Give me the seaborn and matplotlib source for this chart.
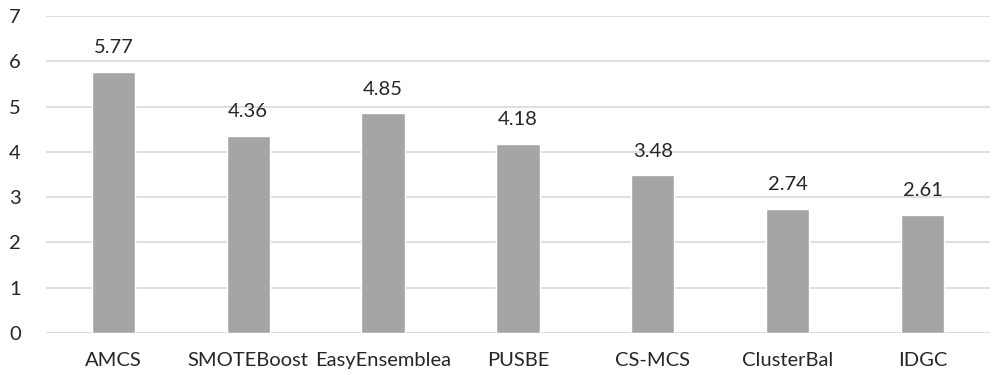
import matplotlib
matplotlib.use("Agg")
import matplotlib.pyplot as plt
import seaborn as sns
import pandas as pd

methods = ["AMCS", "SMOTEBoost", "EasyEnsemblea", "PUSBE", "CS-MCS", "ClusterBal", "IDGC"]
scores = [5.77, 4.36, 4.85, 4.18, 3.48, 2.74, 2.61]
y_ticks = [0, 1, 2, 3, 4, 5, 6, 7]

sns.set_theme(style="white")
plt.rcParams["font.family"] = ["Lato", "DejaVu Sans"]

df = pd.DataFrame({"method": methods, "score": scores})

fig = plt.figure(figsize=(9.97, 3.75), dpi=100)
ax = fig.add_axes([0.046, 0.112, 0.947, 0.845])

sns.barplot(data=df, x="method", y="score", color="#A5A5A8", width=0.32,
            saturation=1, ax=ax, zorder=3)

ax.set_ylim(0, 7)
ax.set_yticks(y_ticks)
ax.set_xlim(-0.5, len(methods) - 0.5)
ax.yaxis.grid(True, color="#D9D9D9", linewidth=1.2, zorder=0)
ax.set_axisbelow(True)
for s in ax.spines.values():
    s.set_visible(False)
ax.axhline(0, color="#D9D9D9", linewidth=1.2, zorder=1)

ax.set_xlabel("")
ax.set_ylabel("")
ax.tick_params(axis="both", length=0, labelsize=14.5, colors="#262626")
ax.tick_params(axis="y", pad=18)
ax.tick_params(axis="x", pad=14)

for i, v in enumerate(scores):
    ax.text(i, v + 0.35, f"{v:.2f}", ha="center", va="bottom", fontsize=14.5, color="#262626")

fig.savefig("out.png", dpi=100)
